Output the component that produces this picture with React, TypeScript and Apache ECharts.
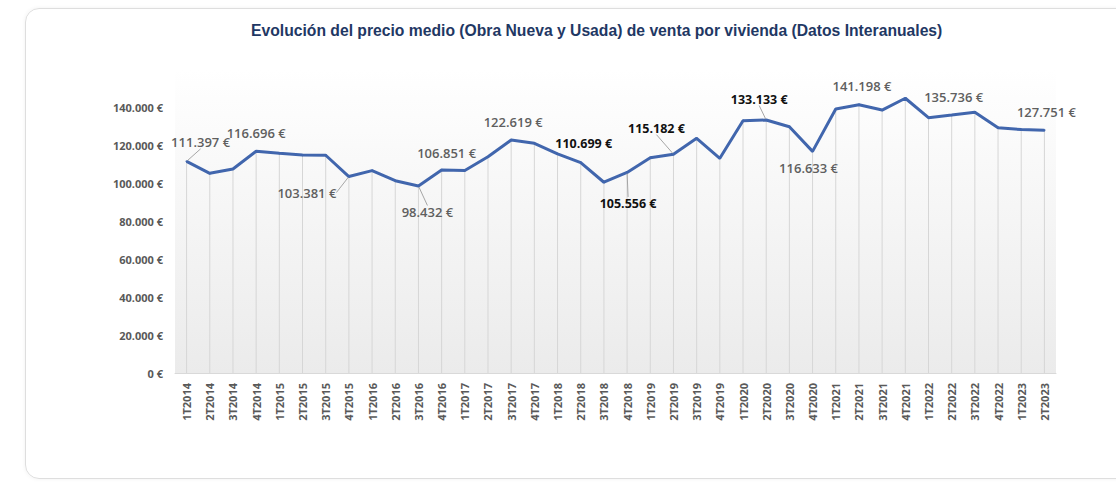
import React, { useEffect, useRef } from "react";
import * as echarts from "echarts";

const TITLE =
  "Evolución del precio medio (Obra Nueva y Usada) de venta por vivienda (Datos Interanuales)";

const categories = [
  "1T2014", "2T2014", "3T2014", "4T2014",
  "1T2015", "2T2015", "3T2015", "4T2015",
  "1T2016", "2T2016", "3T2016", "4T2016",
  "1T2017", "2T2017", "3T2017", "4T2017",
  "1T2018", "2T2018", "3T2018", "4T2018",
  "1T2019", "2T2019", "3T2019", "4T2019",
  "1T2020", "2T2020", "3T2020", "4T2020",
  "1T2021", "2T2021", "3T2021", "4T2021",
  "1T2022", "2T2022", "3T2022", "4T2022",
  "1T2023", "2T2023",
];

const prices = [
  111397, 105100, 107400, 116696,
  115600, 114700, 114600, 103381,
  106500, 101200, 98432, 106851,
  106600, 113800, 122619, 120900,
  115300, 110699, 100400, 105556,
  113300, 115182, 123500, 113000,
  132800, 133133, 129600, 116633,
  138900, 141198, 138400, 144600,
  134400, 135736, 137200, 129100,
  128100, 127751,
];

const yTicks = [0, 20000, 40000, 60000, 80000, 100000, 120000, 140000];

// label placement (index of point, offset of label centre from point, style)
const labelPlacement = [
  { i: 0, dx: 14, dy: -19, bold: false, leader: true },
  { i: 3, dx: 0, dy: -18, bold: false, leader: false },
  { i: 7, dx: -42, dy: 16, bold: false, leader: true },
  { i: 10, dx: 9, dy: 26, bold: false, leader: true },
  { i: 11, dx: 5, dy: -17, bold: false, leader: false },
  { i: 14, dx: 2, dy: -18, bold: false, leader: false },
  { i: 17, dx: 3, dy: -19, bold: true, leader: false },
  { i: 19, dx: 1, dy: 31, bold: true, leader: true },
  { i: 21, dx: -17, dy: -26, bold: true, leader: true },
  { i: 25, dx: -7, dy: -21, bold: true, leader: true },
  { i: 27, dx: -4, dy: 17, bold: false, leader: false },
  { i: 29, dx: 3, dy: -19, bold: false, leader: false },
  { i: 33, dx: 2, dy: -18, bold: false, leader: false },
  { i: 37, dx: 2, dy: -18, bold: false, leader: false },
];

const fmt = (v: number) =>
  String(Math.round(v)).replace(/\B(?=(\d{3})+(?!\d))/g, ".") + " €";

export default function App() {
  const ref = useRef<HTMLDivElement>(null);

  useEffect(() => {
    if (!ref.current) return;
    const chart = echarts.init(ref.current, undefined, { renderer: "svg" });

    const placementByIndex: Record<number, any> = {};
    labelPlacement.forEach((p) => (placementByIndex[p.i] = p));

    const lineData = prices.map((v, i) => {
      const p = placementByIndex[i];
      if (!p) return v;
      return {
        value: v,
        label: {
          show: true,
          position: "inside",
          formatter: fmt(v),
          fontFamily: "Open Sans",
          fontSize: p.bold ? 12.5 : 13,
          fontWeight: p.bold ? "bold" : 600,
          color: p.bold ? "#111111" : "#5f5f5f",
        },
        labelLine: {
          show: p.leader,
          lineStyle: { color: "#a6a6a6", width: 1 },
        },
      };
    });

    chart.setOption({
      animation: false,
      title: {
        text: TITLE,
        left: 246,
        top: 17,
        textStyle: {
          fontFamily: "Liberation Sans",
          fontWeight: "bold",
          fontSize: 15.7,
          color: "#1f3864",
        },
      },
      grid: {
        left: 175,
        right: 60,
        top: 69,
        bottom: 111,
        show: true,
        borderWidth: 0,
        backgroundColor: new echarts.graphic.LinearGradient(0, 0, 0, 1, [
          { offset: 0, color: "#ffffff" },
          { offset: 1, color: "#ebebeb" },
        ]),
      },
      xAxis: {
        type: "category",
        data: categories,
        axisLine: { lineStyle: { color: "#d9d9d9", width: 1 } },
        axisTick: { show: false },
        splitLine: { show: false },
        axisLabel: {
          rotate: 90,
          interval: 0,
          margin: 10,
          fontFamily: "Open Sans",
          fontSize: 11,
          fontWeight: "bold",
          color: "#595959",
        },
      },
      yAxis: {
        type: "value",
        min: 0,
        max: 160000,
        interval: 20000,
        axisLine: { show: false },
        axisTick: { show: false },
        splitLine: { show: false },
        axisLabel: {
          margin: 12,
          fontFamily: "Open Sans",
          fontSize: 11,
          fontWeight: "bold",
          color: "#595959",
          formatter: (v: number) => (yTicks.indexOf(v) >= 0 ? fmt(v) : ""),
        },
      },
      series: [
        {
          type: "bar",
          data: prices,
          barWidth: 1,
          silent: true,
          itemStyle: { color: "#d6d6d6" },
          z: 1,
        },
        {
          type: "line",
          data: lineData,
          symbol: "circle",
          symbolSize: 2,
          showSymbol: true,
          itemStyle: { color: "#4166ad" },
          lineStyle: { color: "#4166ad", width: 3 },
          label: { show: false },
          labelLine: { show: false },
          labelLayout: (params: any) => {
            const p = placementByIndex[params.dataIndex];
            return p ? { dx: p.dx, dy: p.dy } : {};
          },
          z: 3,
        },
      ],
    });

    return () => chart.dispose();
  }, []);

  return (
    <div
      style={{
        position: "absolute",
        left: 0,
        top: 0,
        width: 1116,
        height: 484,
        overflow: "hidden",
        background: "#ffffff",
      }}
    >
      <div
        style={{
          position: "absolute",
          left: 25,
          top: 8,
          width: 1120,
          height: 471,
          border: "1px solid #dedede",
          borderRadius: 14,
          boxShadow: "0 0 4px rgba(0,0,0,0.06)",
          boxSizing: "border-box",
        }}
      />
      <div
        ref={ref}
        style={{ position: "absolute", left: 0, top: 0, width: 1116, height: 484 }}
      />
    </div>
  );
}
